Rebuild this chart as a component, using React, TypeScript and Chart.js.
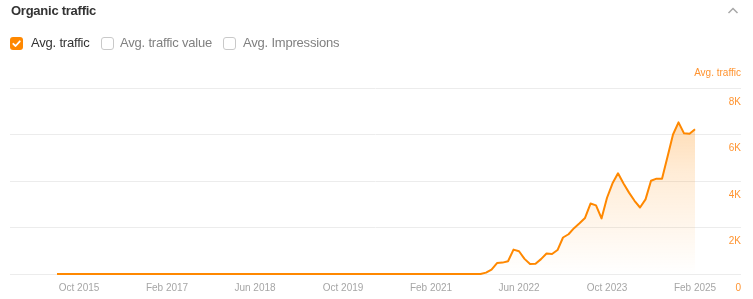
import React, { useEffect, useRef } from 'react';
import { Chart, registerables } from 'chart.js';

Chart.register(...registerables);

// Monthly organic traffic, one value per month starting Jun 2015
const FIRST_YEAR = 2015;
const FIRST_MONTH = 5; // June (0-based)
const MONTH_NAMES = ['Jan', 'Feb', 'Mar', 'Apr', 'May', 'Jun', 'Jul', 'Aug', 'Sep', 'Oct', 'Nov', 'Dec'];

const avgTraffic: number[] = [
  // Jun 2015 – Dec 2015
  0, 0, 0, 0, 0, 0, 0,
  // 2016
  0, 0, 0, 0, 0, 0, 0, 0, 0, 0, 0, 0,
  // 2017
  0, 0, 0, 0, 0, 0, 0, 0, 0, 0, 0, 0,
  // 2018
  0, 0, 0, 0, 0, 0, 0, 0, 0, 0, 0, 0,
  // 2019
  0, 0, 0, 0, 0, 0, 0, 0, 0, 0, 0, 0,
  // 2020
  0, 0, 0, 0, 0, 0, 0, 0, 0, 0, 0, 0,
  // 2021
  0, 0, 0, 0, 0, 0, 0, 0, 0, 0, 0, 60,
  // 2022
  190, 470, 490, 550, 1050, 980, 650, 430, 440, 640, 880, 860,
  // 2023
  1030, 1570, 1710, 1970, 2180, 2410, 3030, 2950, 2390, 3280, 3900, 4330,
  // 2024
  3890, 3500, 3150, 2860, 3210, 4010, 4100, 4100, 5040, 6000, 6520, 6050,
  // Jan 2025 – Feb 2025
  6030, 6230,
];

const months: string[] = avgTraffic.map((_, i) => {
  const m = FIRST_MONTH + i;
  return `${MONTH_NAMES[m % 12]} ${FIRST_YEAR + Math.floor(m / 12)}`;
});

const xTickLabels = ['Oct 2015', 'Feb 2017', 'Jun 2018', 'Oct 2019', 'Feb 2021', 'Jun 2022', 'Oct 2023', 'Feb 2025'];
const yTickValues = [0, 2000, 4000, 6000, 8000];
const yTickLabels = ['0', '2K', '4K', '6K', '8K'];

const legendItems = [
  { label: 'Avg. traffic', checked: true },
  { label: 'Avg. traffic value', checked: false },
  { label: 'Avg. Impressions', checked: false },
];

const ORANGE = '#ff8800';
const FONT = '"Liberation Sans", Arial, Helvetica, sans-serif';

function CheckBox({ checked }: { checked: boolean }) {
  if (checked) {
    return (
      <span
        style={{
          display: 'inline-block',
          width: 13,
          height: 13,
          borderRadius: 3,
          background: ORANGE,
          position: 'relative',
          boxSizing: 'border-box',
        }}
      >
        <svg width="13" height="13" style={{ position: 'absolute', left: 0, top: 0 }}>
          <polyline points="3.3,6.8 5.6,9 9.8,4.3" fill="none" stroke="#fff" strokeWidth="1.8" strokeLinecap="round" strokeLinejoin="round" />
        </svg>
      </span>
    );
  }
  return (
    <span
      style={{
        display: 'inline-block',
        width: 13,
        height: 13,
        borderRadius: 3,
        border: '1px solid #c9c9c9',
        boxSizing: 'border-box',
        background: '#fff',
      }}
    />
  );
}

export default function App() {
  const canvasRef = useRef<HTMLCanvasElement | null>(null);

  useEffect(() => {
    const canvas = canvasRef.current;
    if (!canvas) return;

    const chart = new Chart(canvas, {
      type: 'line',
      data: {
        datasets: [
          {
            label: 'Avg. traffic',
            data: avgTraffic.map((v, i) => ({ x: i, y: v })),
            borderColor: ORANGE,
            borderWidth: 2,
            borderJoinStyle: 'round',
            pointRadius: 0,
            tension: 0,
            fill: 'start',
            clip: 4,
            backgroundColor: (ctx: any) => {
              const { chart: c } = ctx;
              const area = c.chartArea;
              if (!area) return 'rgba(255,136,0,0.2)';
              const g = c.ctx.createLinearGradient(0, area.top, 0, area.bottom);
              g.addColorStop(0, 'rgba(255,136,0,0.38)');
              g.addColorStop(0.45, 'rgba(255,136,0,0.16)');
              g.addColorStop(1, 'rgba(255,136,0,0.0)');
              return g;
            },
          },
        ],
      },
      options: {
        animation: false,
        responsive: false,
        maintainAspectRatio: false,
        layout: { padding: { left: 10, right: 12, top: 88, bottom: 0 } },
        plugins: {
          legend: { display: false },
          tooltip: { enabled: false },
        },
        scales: {
          x: {
            type: 'linear',
            min: -8.55,
            max: 124.36,
            grid: { display: false, drawTicks: false },
            border: { display: false },
            afterBuildTicks: (scale: any) => {
              scale.ticks = xTickLabels.map((l) => ({ value: months.indexOf(l) }));
            },
            afterFit: (scale: any) => {
              scale.height = 25;
            },
            ticks: {
              autoSkip: false,
              maxRotation: 0,
              padding: 8,
              color: '#a6a6a6',
              font: { family: FONT, size: 10 },
              callback: (value: any) => months[Number(value)] ?? '',
            },
          },
          y: {
            position: 'right',
            min: 0,
            max: 8000,
            grid: { color: '#ececec', drawTicks: false, lineWidth: 1 },
            border: { display: false },
            afterBuildTicks: (scale: any) => {
              scale.ticks = yTickValues.map((v) => ({ value: v }));
            },
            afterFit: (scale: any) => {
              scale.width = 0;
            },
            ticks: {
              mirror: true,
              padding: 0,
              labelOffset: 14,
              color: '#ff9431',
              font: { family: FONT, size: 10 },
              callback: (value: any) => yTickLabels[yTickValues.indexOf(Number(value))] ?? '',
            },
          },
        },
      },
    } as any);

    return () => chart.destroy();
  }, []);

  const legendX = [
    { box: 10, text: 31 },
    { box: 100.5, text: 120 },
    { box: 223, text: 243 },
  ];

  return (
    <div
      style={{
        position: 'absolute',
        left: 0,
        top: 0,
        width: 753,
        height: 299,
        background: '#fff',
        fontFamily: FONT,
        overflow: 'hidden',
      }}
    >
      <canvas ref={canvasRef} width={753} height={299} style={{ position: 'absolute', left: 0, top: 0, width: 753, height: 299 }} />

      <div
        style={{
          position: 'absolute',
          left: 11,
          top: 3,
          fontSize: 13,
          lineHeight: '16px',
          fontWeight: 'bold',
          color: '#333',
          letterSpacing: '-0.25px',
          whiteSpace: 'nowrap',
        }}
      >
        Organic traffic
      </div>

      <svg width="12" height="9" style={{ position: 'absolute', left: 727, top: 6 }}>
        <polyline points="1.5,7 6,2.5 10.5,7" fill="none" stroke="#a8a8a8" strokeWidth="1.5" />
      </svg>

      {legendItems.map((item, i) => (
        <React.Fragment key={item.label}>
          <span style={{ position: 'absolute', left: legendX[i].box, top: 37, width: 13, height: 13, lineHeight: 0 }}>
            <CheckBox checked={item.checked} />
          </span>
          <span
            style={{
              position: 'absolute',
              left: legendX[i].text,
              top: 35,
              fontSize: 13,
              lineHeight: '15px',
              color: item.checked ? '#333' : '#808080',
              letterSpacing: '-0.2px',
              whiteSpace: 'nowrap',
            }}
          >
            {item.label}
          </span>
        </React.Fragment>
      ))}

      <div
        style={{
          position: 'absolute',
          right: 12,
          top: 67,
          fontSize: 10,
          lineHeight: '12px',
          color: '#ff9431',
          whiteSpace: 'nowrap',
        }}
      >
        Avg. traffic
      </div>
    </div>
  );
}
